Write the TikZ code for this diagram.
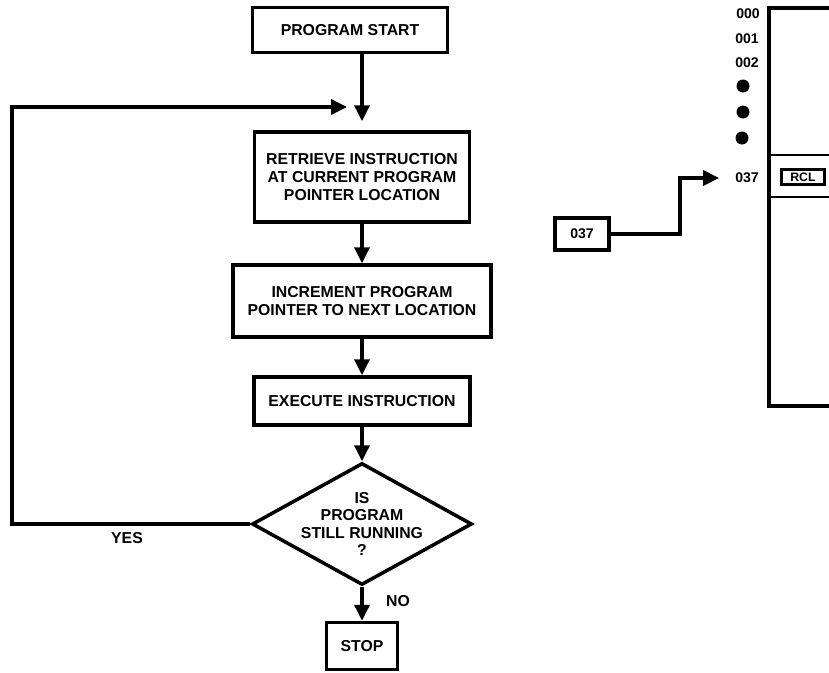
\documentclass[tikz,border=0pt]{standalone}
\usepackage{fontspec}
\setmainfont{Liberation Sans}
\usetikzlibrary{arrows.meta,shapes.geometric}

\begin{document}
\begin{tikzpicture}[x=0.02cm,y=-0.02cm,>={Triangle[length=0.32cm,width=0.3cm]},
  box/.style={draw,line width=2pt,align=center,inner sep=2pt,font=\fontsize{9}{10}\selectfont\bfseries},
  flow/.style={->,line width=2pt},
  lbl/.style={font=\fontsize{9}{10}\selectfont\bfseries},
  addr/.style={font=\fontsize{8}{9}\selectfont\bfseries},
  dot/.style={circle,fill,inner sep=0pt,minimum size=0.26cm}]
\useasboundingbox (0,0) rectangle (829,673);
% flowchart
\node[box,minimum width=3.9cm,minimum height=0.9cm] (s0) at (350,30) {PROGRAM START};
\node[box,minimum width=4.3cm,minimum height=1.8cm] (s1) at (362,177) {RETRIEVE INSTRUCTION\\AT CURRENT PROGRAM\\POINTER LOCATION};
\node[box,minimum width=5.16cm,minimum height=1.44cm] (s2) at (362,301) {INCREMENT PROGRAM\\POINTER TO NEXT LOCATION};
\node[box,minimum width=4.32cm,minimum height=0.96cm] (s3) at (362,401) {EXECUTE INSTRUCTION};
\node[draw,diamond,line width=2pt,minimum width=4.4cm,minimum height=2.44cm,inner sep=0pt] (s4) at (362,524) {};
\node[lbl,align=center] (q) at (s4.center) {IS\\PROGRAM\\STILL RUNNING\\?};
\node[box,minimum width=1.42cm,minimum height=0.94cm] (s5) at (362,646) {STOP};
\node[lbl] (yes) at (127,538) {YES};
\node[lbl] (no) at (398,601) {NO};
\coordinate (m0) at (362,107);
\coordinate (c0) at (12,524);
\coordinate (c1) at (12,107);
\draw[flow,shorten >=0.18cm] (s0.south -| s1.north) -- (s1.north);
\draw[flow] (s1.south) -- (s2.north);
\draw[flow] (s2.south) -- (s3.north);
\draw[flow] (s3.south) -- (s4.north);
\draw[flow] (s4.south) -- (s5.north);
\draw[flow,shorten >=0.3cm] (s4.west) -- (c0) -- (c1) -- (m0);
% memory
\node[addr] (r0) at (748,14) {000};
\node[addr] (r1) at (747,39) {001};
\node[addr] (r2) at (747,63) {002};
\node[dot] (d0) at (743,86) {};
\node[dot] (d1) at (743,112) {};
\node[dot] (d2) at (742,138) {};
\node[addr] (r7) at (747,178) {037};
\draw[line width=2pt] (829,8) -| (769,406) -- (829,406);
\draw[line width=0.9pt] (769,155) -- (829,155);
\draw[line width=0.9pt] (769,197) -- (829,197);
\node[draw,line width=1.4pt,inner sep=1pt,minimum width=0.86cm,minimum height=0.3cm,font=\fontsize{7}{7}\selectfont\bfseries] (rcl) at (803,177) {RCL};
\node[box,addr,minimum width=1.08cm,minimum height=0.64cm] (a0) at (582,234) {037};
\coordinate (k0) at (680,178);
\draw[flow,shorten >=0.2cm] (a0.east) -| (k0) -- (r7.west);
\end{tikzpicture}
\end{document}
